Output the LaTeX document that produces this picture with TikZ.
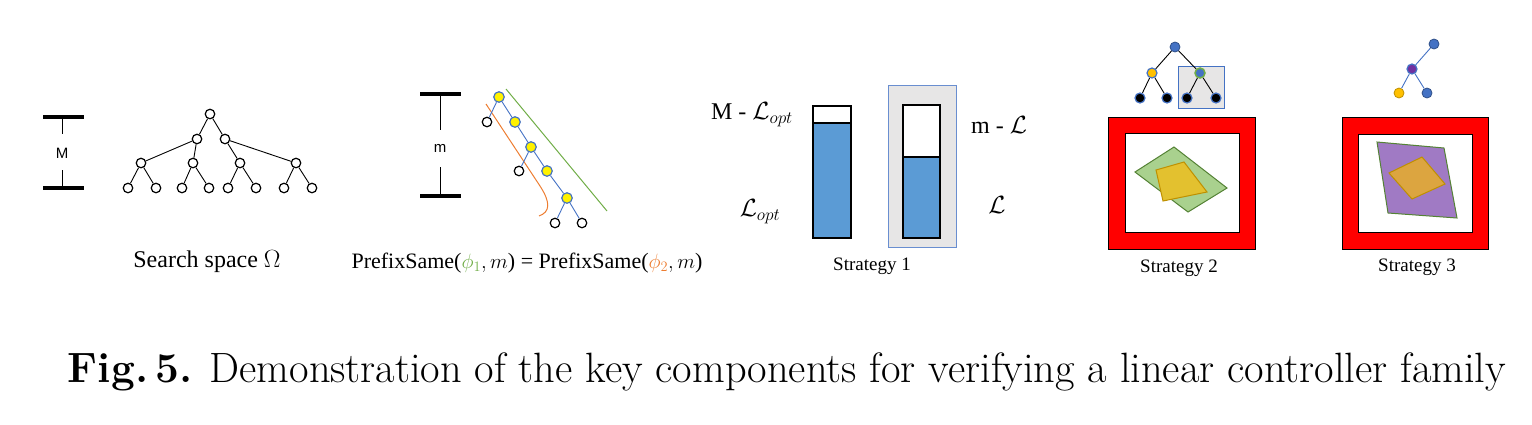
\documentclass[tikz,border=0pt]{standalone}
\usepackage{fontspec}
\newfontfamily\tnr{Liberation Serif}
\newfontfamily\ari{Liberation Sans}
\definecolor{ublue}{HTML}{4472C4}
\definecolor{fillblue}{HTML}{5B9BD5}
\definecolor{ugreen}{HTML}{70AD47}
\definecolor{dgreen}{HTML}{548235}
\definecolor{lgreen}{HTML}{A9D18E}
\definecolor{uorange}{HTML}{ED7D31}
\definecolor{ugold}{HTML}{FFC000}
\definecolor{dgold}{HTML}{BF9000}
\definecolor{ugray}{HTML}{E7E6E6}
\definecolor{upurple}{HTML}{7030A0}
\definecolor{lpurple}{HTML}{A07AC4}
\definecolor{yfill}{HTML}{E3C12F}
\definecolor{ofill}{HTML}{DCA540}
\begin{document}
\begin{tikzpicture}[x=1pt,y=-1pt,
  wn/.style={circle,draw=black,fill=white,line width=1.2pt,minimum size=9.5pt,inner sep=0pt},
  yn/.style={circle,draw=ublue,fill=yellow,line width=1.2pt,minimum size=10.5pt,inner sep=0pt},
  bn/.style={circle,draw=ublue,fill=black,line width=1.2pt,minimum size=10pt,inner sep=0pt},
  tl/.style={draw=black,line width=0.9pt},
  bl/.style={draw=ublue,line width=0.9pt},
  barline/.style={line width=3.2pt},
  barstem/.style={line width=1pt},
  lbl/.style={inner sep=0pt,font=\tnr\fontsize{22}{26}\selectfont},
  slbl/.style={inner sep=0pt,font=\tnr\fontsize{19}{22}\selectfont},
  column/.style={draw=black,line width=2.5pt},
  redframe/.style={draw=black,fill=red,line width=1pt},
  whiteframe/.style={draw=black,fill=white,line width=1pt}
]
\useasboundingbox (0,0) rectangle (1532,424);

% ---------- Search space ----------
\draw[barline] (43,117) -- (84,117);
\draw[barline] (43,188) -- (84,188);
\draw[barstem] (62,117) -- (62,134);
\draw[barstem] (62,170) -- (62,188);
\node[inner sep=0pt,font=\ari\fontsize{15}{18}\selectfont] (Mlab) at (62,153) {M};

\node[wn] (r) at (210,114) {};
\node[wn] (a1) at (197,139) {};
\node[wn] (a2) at (225,139) {};
\node[wn] (b1) at (141,163) {};
\node[wn] (b2) at (193,163) {};
\node[wn] (b3) at (240,163) {};
\node[wn] (b4) at (296,163) {};
\foreach \i/\x in {1/128,2/156,3/182,4/209,5/228,6/256,7/284,8/312}
  \node[wn] (c\i) at (\x,188) {};
\foreach \p/\c in {r/a1,r/a2,a1/b1,a1/b2,a2/b3,a2/b4,b1/c1,b1/c2,b2/c3,b2/c4,b3/c5,b3/c6,b4/c7,b4/c8}
  \draw[tl] (\p) -- (\c);
\node[lbl,font=\tnr\fontsize{24}{28}\selectfont] (ss) at (207,262) {Search space $\Omega$};

% ---------- PrefixSame ----------
\draw[barline] (420,94) -- (461,94);
\draw[barline] (420,196) -- (461,196);
\draw[barstem] (440,94) -- (440,130);
\draw[barstem] (440,167) -- (440,196);
\node[inner sep=0pt,font=\ari\fontsize{15}{18}\selectfont] (mlab) at (440,148) {m};

\draw[ugreen,line width=1pt] (506,89) -- (607,211);
\draw[uorange,line width=1pt] (486,104) -- (540,186) .. controls (551,203) and (550,212) .. (539,216);

\node[yn] (p1) at (499,97) {};
\node[yn] (p2) at (515,122) {};
\node[yn] (p3) at (531,147) {};
\node[yn] (p4) at (547,171) {};
\node[yn] (p5) at (567,198) {};
\node[wn] (q1) at (487,122) {};
\node[wn] (q2) at (519,171) {};
\node[wn] (q3) at (555,223) {};
\node[wn] (q4) at (582,223) {};
\foreach \p/\c in {p1/q1,p1/p2,p2/p3,p3/q2,p3/p4,p4/p5,p5/q3,p5/q4}
  \draw[bl] (\p) -- (\c);
\node[lbl] (ps) at (527,263) {PrefixSame(${\color{ugreen}\phi_1}, m$) = PrefixSame(${\color{uorange}\phi_2}, m$)};

% ---------- Strategy 1 ----------
\node[draw=ublue!80,fill=ugray,line width=1pt,minimum width=68pt,minimum height=162pt,inner sep=0pt] (gbox) at (922,166) {};
\fill[fillblue] (813,123) rectangle (851,238);
\draw[column] (813,123) -- (851,123);
\draw[column] (813,106) rectangle (851,238);
\fill[white] (903,105) rectangle (940,157);
\fill[fillblue] (903,157) rectangle (940,238);
\draw[column] (903,157) -- (940,157);
\draw[column] (903,105) rectangle (940,238);
\node[lbl,font=\tnr\fontsize{24}{28}\selectfont] (t1) at (752,115) {M - $\mathcal{L}_{opt}$};
\node[lbl,font=\tnr\fontsize{24}{28}\selectfont] (t2) at (999,125) {m - $\mathcal{L}$};
\node[lbl,font=\tnr\fontsize{24}{28}\selectfont] (t3) at (760,212) {$\mathcal{L}_{opt}$};
\node[lbl,font=\tnr\fontsize{24}{28}\selectfont] (t4) at (997,205) {$\mathcal{L}$};
\node[slbl] (s1) at (872,266) {Strategy 1};

% ---------- Strategy 2 ----------
\node[draw=ublue,fill=ugray,line width=1pt,minimum width=46pt,minimum height=42pt,inner sep=0pt] (gbox2) at (1201,87) {};
\node[circle,draw=ublue!70!black,fill=ublue,line width=0.8pt,minimum size=10pt,inner sep=0pt] (u0) at (1175,47) {};
\node[circle,draw=ublue,fill=ugold,line width=1.2pt,minimum size=10pt,inner sep=0pt] (u1) at (1152,73) {};
\node[circle,draw=ugreen,fill=ublue,line width=1.5pt,minimum size=10pt,inner sep=0pt] (u2) at (1200,73) {};
\node[bn] (v1) at (1140,98) {};
\node[bn] (v2) at (1167,98) {};
\node[bn] (v3) at (1187,98) {};
\node[bn] (v4) at (1216,98) {};
\foreach \p/\c in {u0/u1,u0/u2,u1/v1,u1/v2,u2/v3,u2/v4}
  \draw[tl] (\p) -- (\c);
\draw[redframe] (1108,117) rectangle (1255,249);
\draw[whiteframe] (1125,133) rectangle (1239,232);
\draw[draw=dgreen,fill=lgreen,line width=1pt] (1135,172) -- (1174,147) -- (1227,188) -- (1188,212) -- cycle;
\draw[draw=dgold,fill=yfill,line width=1pt] (1156,170) -- (1184,162) -- (1207,192) -- (1163,201) -- cycle;
\node[slbl] (s2) at (1179,268) {Strategy 2};

% ---------- Strategy 3 ----------
\node[circle,draw=ublue!70!black,fill=ublue,line width=0.8pt,minimum size=10pt,inner sep=0pt] (w0) at (1434,44) {};
\node[circle,draw=ublue,fill=upurple,line width=1.2pt,minimum size=10pt,inner sep=0pt] (w1) at (1412,69) {};
\node[circle,draw=dgold,fill=ugold,line width=0.8pt,minimum size=10pt,inner sep=0pt] (w2) at (1399,93) {};
\node[circle,draw=ublue!70!black,fill=ublue,line width=0.8pt,minimum size=10pt,inner sep=0pt] (w3) at (1427,93) {};
\foreach \p/\c in {w0/w1,w1/w2,w1/w3}
  \draw[bl] (\p) -- (\c);
\draw[redframe] (1342,117) rectangle (1488,249);
\draw[whiteframe] (1358,134) rectangle (1472,232);
\draw[draw=dgreen,fill=lpurple,line width=1pt] (1377,142) -- (1444,148) -- (1457,218) -- (1388,213) -- cycle;
\draw[draw=dgold,fill=ofill,line width=1pt] (1389,173) -- (1422,157) -- (1445,184) -- (1412,199) -- cycle;
\node[slbl] (s3) at (1417,267) {Strategy 3};

% ---------- Caption ----------
\node[inner sep=0pt,font=\fontsize{42.4}{46}\selectfont] (cap) at (787,372) {\textbf{Fig.\,5.} Demonstration of the key components for verifying a linear controller family};
\end{tikzpicture}
\end{document}
